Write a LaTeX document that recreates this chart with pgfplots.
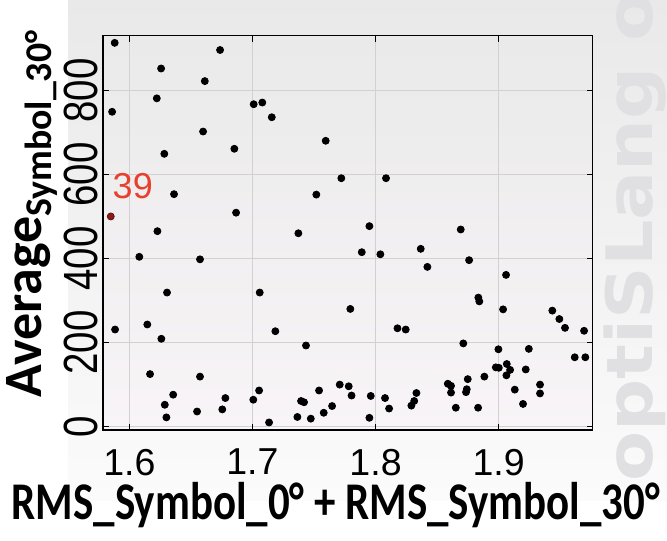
\documentclass[border=0pt]{standalone}
\usepackage{pgfplots}
\pgfplotsset{compat=1.18}
\usepackage{fontspec}
\setmainfont{Liberation Sans}
\newfontfamily\labelfont{Carlito}
\newfontfamily\markfont{DejaVu Sans}

\definecolor{panelTop}{HTML}{E9E9E9}
\definecolor{panelBottom}{HTML}{FBFBFB}
\definecolor{plotTop}{HTML}{EAEAEA}
\definecolor{plotBottom}{HTML}{F8F4F7}
\definecolor{wmark}{HTML}{E0E0E2}
\definecolor{hilite}{HTML}{E8402F}
\definecolor{hiliteDot}{HTML}{8B1A1A}

\begin{document}
\begin{tikzpicture}
\useasboundingbox (0,0) rectangle (333.5pt,270pt);
\fill[white] (0,0) rectangle (333.5pt,270pt);
\shade[top color=panelTop, bottom color=panelBottom] (34pt,20pt) rectangle (333.5pt,270pt);
% product watermark along the right edge
\node[rotate=90, anchor=base west, inner sep=0pt, text=wmark,
      font=\markfont\bfseries\fontsize{32}{32}\selectfont]
  at (326pt,29pt) {\scalebox{1.14}[1]{optiSLang\ optiSLang}};

\begin{axis}[
  at={(51.5pt,55pt)}, anchor=south west,
  scale only axis, width=244.85pt, height=197.15pt,
  xmin=1.5786, xmax=1.9764, ymin=-8, ymax=930,
  xtick={1.6,1.7,1.8,1.9}, ytick={0,200,400,600,800},
  grid=major, major grid style={black!18, line width=0.4pt},
  tick align=inside, major tick length=3pt,
  tick style={black, line width=0.6pt},
  axis line style={black, line width=0.7pt},
  axis background/.style={top color=plotTop, bottom color=plotBottom},
  /pgf/number format/assume math mode=true,
  xticklabel style={font=\fontsize{18.75}{18.75}\selectfont, anchor=north, inner sep=0pt, yshift=-9.3pt},
  yticklabel={\scalebox{0.8}[1]{\fontsize{24}{24}\selectfont\pgfmathprintnumber{\tick}}},
  yticklabel style={rotate=90, anchor=south, inner sep=2.5pt},
  xlabel={RMS\_Symbol\_0° + RMS\_Symbol\_30°},
  ylabel={Average\textsubscript{Symbol\_30°}},
  xlabel style={at={(axis description cs:0.4754,-0.2267)}, anchor=base, xscale=0.81,
                font=\labelfont\bfseries\fontsize{26.5}{26.5}\selectfont},
  ylabel style={at={(axis description cs:-0.1246,0.549)}, anchor=base,
                font=\labelfont\bfseries\fontsize{27}{27}\selectfont},
]
\addplot[only marks, mark=*, mark size=1.75pt, mark options={fill=black, draw=black}] table {
x y
1.5881 913
1.6737 896
1.6258 852
1.6613 822
1.6223 781
1.5860 749
1.7010 767
1.7080 771
1.7157 736
1.6599 702
1.6853 661
1.6284 649
1.6363 553
1.6867 509
1.6228 465
1.7595 680
1.7722 591
1.8085 591
1.7519 552
1.7373 460
1.7950 477
1.8692 469
1.6081 404
1.6574 398
1.6306 319
1.7059 319
1.5884 231
1.6146 243
1.7186 227
1.6260 209
1.6168 125
1.6574 119
1.6356 76
1.6288 52
1.6301 22
1.6550 36
1.6780 68
1.6755 41
1.7007 64
1.7054 86
1.7135 10
1.7888 415
1.8039 410
1.8367 423
1.8421 380
1.8760 396
1.7795 280
1.8178 234
1.8245 231
1.7435 193
1.8713 198
1.7709 100
1.7782 96
1.7541 86
1.7805 74
1.7961 73
1.7395 61
1.7419 58
1.7647 49
1.7579 33
1.7365 23
1.7474 19
1.7950 21
1.8077 68
1.8110 43
1.8332 80
1.8314 61
1.8291 50
1.8587 102
1.8613 97
1.8613 81
1.8652 45
1.8749 113
1.8741 89
1.8735 82
1.9060 361
1.8835 307
1.8843 298
1.9036 279
1.9436 276
1.9493 256
1.9539 235
1.9694 228
1.8998 184
1.9245 185
1.9618 165
1.9704 165
1.8977 141
1.9001 140
1.9066 149
1.9093 135
1.9063 122
1.9220 136
1.8884 119
1.9131 88
1.9336 100
1.9336 79
1.8833 45
1.9198 54
};
% highlighted design no. 39
\addplot[only marks, mark=*, mark size=1.75pt, mark options={fill=hiliteDot, draw=hiliteDot!70!black}] coordinates {(1.5849,500)};
\node[text=hilite, font=\fontsize{18}{18}\selectfont, xshift=11pt, yshift=15pt] at (axis cs:1.5849,500) {39};
\end{axis}
\end{tikzpicture}
\end{document}
